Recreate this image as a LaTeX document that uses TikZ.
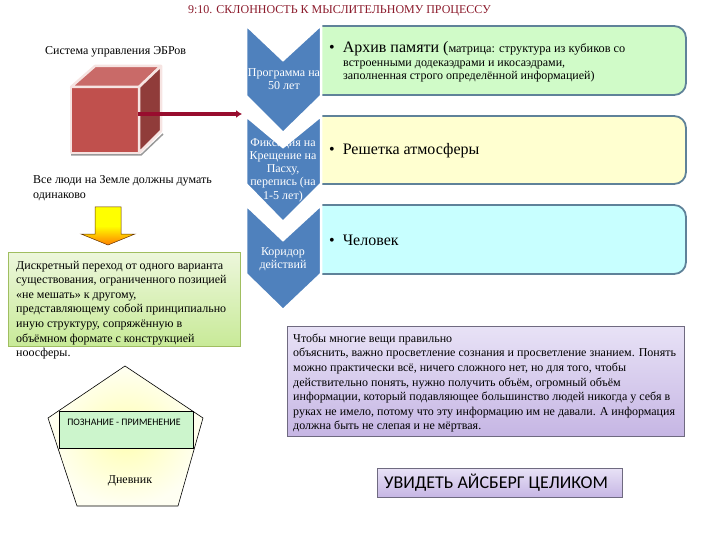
\documentclass[tikz,border=0pt]{standalone}
\usepackage{fontspec}
\setmainfont{Liberation Serif}
\newfontfamily\labelsans{Carlito}
\usetikzlibrary{arrows.meta}
\definecolor{chevblue}{HTML}{4F81BD}
\definecolor{boxedge}{HTML}{5F8299}
\definecolor{cubered}{HTML}{C0504D}
\definecolor{cubeedge}{HTML}{F6E4E2}
\definecolor{arrowred}{HTML}{980D2E}
\definecolor{titlered}{HTML}{8B1A2B}
\definecolor{lilactop}{HTML}{E8E2F6}
\definecolor{lilacbottom}{HTML}{C6B6E4}
\definecolor{lilacedge}{HTML}{6F6A80}
\definecolor{greentop}{HTML}{EDF7DC}
\definecolor{greenbottom}{HTML}{C8EA98}
\definecolor{greenedge}{HTML}{A0BE60}
\definecolor{barGreen}{HTML}{D0FBC8}
\definecolor{barYellow}{HTML}{FFFFD0}
\definecolor{barCyan}{HTML}{C8FFFF}
\definecolor{knowgreen}{HTML}{CCF5CC}
\tikzset{
  chevron/.style={fill=chevblue, draw=white, line width=2.5pt, line join=miter},
  chevlabel/.style={text=white, align=center, font=\fontsize{12}{13.2}\selectfont, inner sep=0pt},
  bigitem/.style={anchor=west, inner sep=0pt, font=\fontsize{16}{18}\selectfont},
  smalltext/.style={anchor=west, inner sep=0pt, align=left, font=\fontsize{12}{12.2}\selectfont},
  plaintext/.style={anchor=west, inner sep=0pt, align=left, font=\fontsize{12}{14.6}\selectfont},
  lilacbox/.style={draw=lilacedge, top color=lilactop, bottom color=lilacbottom, line width=.8pt},
  barbox/.style={draw=boxedge, line width=1.8pt},
}
\begin{document}
\begin{tikzpicture}[x=1pt,y=-1pt]
\useasboundingbox (0,0) rectangle (720,540);
% title
\node[text=titlered, font=\fontsize{12}{14}\selectfont, inner sep=0pt] (title) at (339.5,11) {9:10. СКЛОННОСТЬ К МЫСЛИТЕЛЬНОМУ ПРОЦЕССУ};

% left column
\node[plaintext] (sys) at (45,51.5) {Система управления ЭБРов};
\draw[black!40, line width=1.5pt] (71,155) -- (141,155) -- (163,134);
\draw[cubeedge, line width=2.5pt, fill=cubered, line join=round] (71,87) rectangle (139,153);
\draw[cubeedge, line width=2.5pt, fill=cubered!85!white, line join=round] (71,87) -- (95,66) -- (161,66) -- (139,87) -- cycle;
\draw[cubeedge, line width=2.5pt, fill=cubered!75!black, line join=round] (139,87) -- (161,66) -- (161,131) -- (139,153) -- cycle;
\coordinate (cubeside) at (138,114);
\node[plaintext] (all) at (33,188) {Все люди на Земле должны думать\\одинаково};
\draw[draw=black!60!orange, top color=yellow, bottom color=orange, middle color=yellow, line width=.5pt]
  (95,207) -- (121,207) -- (121,234) -- (135,234) -- (108,245) -- (81,234) -- (95,234) -- cycle;
\node[draw=greenedge, top color=greentop, bottom color=greenbottom, minimum width=232pt, minimum height=94pt, inner sep=0pt] (trans) at (124,299) {};
\node[plaintext] (transtext) at (16,310) {Дискретный переход от одного варианта\\существования, ограниченного позицией\\«не мешать» к другому,\\представляющему собой принципиально\\иную структуру, сопряжённую в\\объёмном формате с конструкцией\\ноосферы.};

% pentagon
\draw[black, line width=.6pt, inner color=yellow!30, outer color=yellow!5!white] (125,366) -- (203,418) -- (178,506) -- (77,506) -- (48,418) -- cycle;
\node[draw=black, fill=knowgreen, line width=.6pt, minimum width=134pt, minimum height=37pt, inner sep=0pt] (know) at (126,429.5) {};
\node[font=\labelsans\fontsize{9.9}{11}\selectfont, inner sep=0pt] (knowtext) at (124,422) {ПОЗНАНИЕ - ПРИМЕНЕНИЕ};
\node[font=\fontsize{12}{14}\selectfont, inner sep=0pt] (diary) at (130,481) {Дневник};

% rounded bars
\draw[barbox, fill=barGreen]
  (321,26) -- (674,26) to[out=0,in=90] (686,38) -- (686,83) to[out=-90,in=0] (674,95) -- (321,95) -- cycle;
\draw[barbox, fill=barYellow]
  (321,116) -- (674,116) to[out=0,in=90] (686,128) -- (686,172) to[out=-90,in=0] (674,184) -- (321,184) -- cycle;
\draw[barbox, fill=barCyan]
  (321,205) -- (674,205) to[out=0,in=90] (686,217) -- (686,262) to[out=-90,in=0] (674,274) -- (321,274) -- cycle;

% chevrons, lowest first
\draw[chevron] (246,205) -- (283,240) -- (321,205) -- (321,274) -- (283,310) -- (246,274) -- cycle;
\draw[chevron] (246,116) -- (283,147) -- (321,116) -- (321,184) -- (283,222) -- (246,184) -- cycle;
\draw[chevron] (246,25) -- (283,60) -- (321,25) -- (321,96) -- (283,133) -- (246,96) -- cycle;
\node[chevlabel] (prog) at (284,79) {Программа на\\50 лет};
\node[chevlabel] (fix) at (283,170) {Фиксация на\\Крещение на\\Пасху,\\перепись (на\\1-5 лет)};
\node[chevlabel] (corr) at (283,259) {Коридор\\действий};

% bar texts
\node[bigitem] (archive) at (329,48.5) {•\hspace{8pt}Архив памяти (\fontsize{12.3}{14}\selectfont матрица: структура из кубиков со};
\node[smalltext] (archive2) at (343,71.5) {встроенными додекаэдрами и икосаэдрами,\\заполненная строго определённой информацией)};
\node[bigitem] (grid) at (329,151) {•\hspace{8pt}Решетка атмосферы};
\node[bigitem] (man) at (329,240) {•\hspace{8pt}Человек};

% arrow from the cube to the first chevron
\coordinate (chevleft) at (242,114);
\draw[arrowred, line width=3.5pt, -{Latex[length=6pt,width=8pt]}] (cubeside) -- (chevleft);

% lilac boxes
\node[lilacbox, minimum width=397pt, minimum height=110pt, inner sep=0pt] (note) at (485.5,381) {};
\node[plaintext] (notetext) at (293,383) {Чтобы многие вещи правильно\\объяснить, важно просветление сознания и просветление знанием. Понять\\можно практически всё, ничего сложного нет, но для того, чтобы\\действительно понять, нужно получить объём, огромный объём\\информации, который подавляющее большинство людей никогда у себя в\\руках не имело, потому что эту информацию им не давали. А информация\\должна быть не слепая и не мёртвая.};
\node[lilacbox, minimum width=245pt, minimum height=29pt, inner sep=0pt] (iceberg) at (499.5,482.5) {};
\node[font=\labelsans\fontsize{18}{20}\selectfont, inner sep=0pt] (icebergtext) at (496,483) {УВИДЕТЬ АЙСБЕРГ ЦЕЛИКОМ};
\end{tikzpicture}
\end{document}
